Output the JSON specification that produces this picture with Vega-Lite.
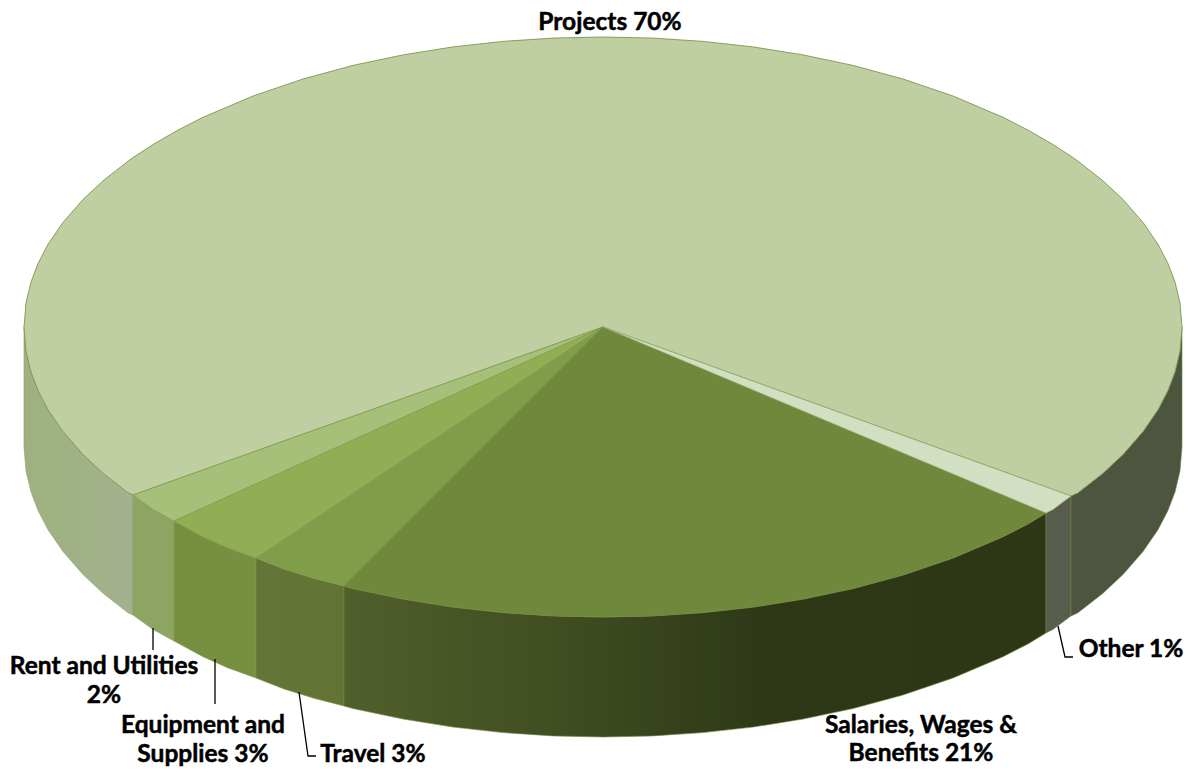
{"$schema":"https://vega.github.io/schema/vega-lite/v6.json","autosize":{"type":"fit","contains":"padding"},"width":1195,"height":772,"padding":0,"background":"white","view":{"stroke":null},
"datasets":{"shape":[
{"slice":"Projects","part":"top","x":24,"y":327,"y2":327},{"slice":"Projects","part":"top","x":26,"y":303,"y2":351},{"slice":"Projects","part":"top","x":31,"y":282,"y2":372},{"slice":"Projects","part":"top","x":38,"y":263.6,"y2":390.4},{"slice":"Projects","part":"top","x":48,"y":244.3,"y2":409.7},{"slice":"Projects","part":"top","x":63,"y":222.4,"y2":431.6},{"slice":"Projects","part":"top","x":83,"y":199.5,"y2":454.5},{"slice":"Projects","part":"top","x":103,"y":180.8,"y2":473.2},{"slice":"Projects","part":"top","x":128,"y":161.2,"y2":492.8},{"slice":"Projects","part":"top","x":133,"y":157.6,"y2":495},{"slice":"Projects","part":"top","x":153,"y":144.5,"y2":487.9},{"slice":"Projects","part":"top","x":178,"y":130.1,"y2":478.9},{"slice":"Projects","part":"top","x":203,"y":117.3,"y2":470},{"slice":"Projects","part":"top","x":253,"y":96,"y2":452.1},{"slice":"Projects","part":"top","x":303,"y":79,"y2":434.2},{"slice":"Projects","part":"top","x":353,"y":65.4,"y2":416.4},{"slice":"Projects","part":"top","x":403,"y":54.9,"y2":398.5},{"slice":"Projects","part":"top","x":453,"y":46.9,"y2":380.6},{"slice":"Projects","part":"top","x":503,"y":41.4,"y2":362.7},{"slice":"Projects","part":"top","x":553,"y":38.1,"y2":344.9},{"slice":"Projects","part":"top","x":603,"y":37,"y2":327},{"slice":"Projects","part":"top","x":653,"y":38.1,"y2":345.1},{"slice":"Projects","part":"top","x":703,"y":41.4,"y2":363.1},{"slice":"Projects","part":"top","x":753,"y":46.9,"y2":381.2},{"slice":"Projects","part":"top","x":803,"y":54.9,"y2":399.2},{"slice":"Projects","part":"top","x":853,"y":65.4,"y2":417.3},{"slice":"Projects","part":"top","x":903,"y":79,"y2":435.3},{"slice":"Projects","part":"top","x":953,"y":96,"y2":453.4},{"slice":"Projects","part":"top","x":1003,"y":117.3,"y2":471.4},{"slice":"Projects","part":"top","x":1028,"y":130.1,"y2":480.5},{"slice":"Projects","part":"top","x":1053,"y":144.5,"y2":489.5},{"slice":"Projects","part":"top","x":1071,"y":156.2,"y2":496},{"slice":"Projects","part":"top","x":1078,"y":161.2,"y2":492.8},{"slice":"Projects","part":"top","x":1103,"y":180.8,"y2":473.2},{"slice":"Projects","part":"top","x":1123,"y":199.5,"y2":454.5},{"slice":"Projects","part":"top","x":1143,"y":222.4,"y2":431.6},{"slice":"Projects","part":"top","x":1158,"y":244.3,"y2":409.7},{"slice":"Projects","part":"top","x":1168,"y":263.6,"y2":390.4},{"slice":"Projects","part":"top","x":1175,"y":282,"y2":372},{"slice":"Projects","part":"top","x":1180,"y":303,"y2":351},{"slice":"Projects","part":"top","x":1182,"y":327,"y2":327},
{"slice":"Rent","part":"top","x":133,"y":495,"y2":495},{"slice":"Rent","part":"top","x":153,"y":487.9,"y2":509.5},{"slice":"Rent","part":"top","x":174,"y":480.3,"y2":521},{"slice":"Rent","part":"top","x":603,"y":327,"y2":327},
{"slice":"Equipment","part":"top","x":174,"y":521,"y2":521},{"slice":"Equipment","part":"top","x":203,"y":507.9,"y2":536.7},{"slice":"Equipment","part":"top","x":228,"y":496.6,"y2":547.9},{"slice":"Equipment","part":"top","x":256,"y":483.9,"y2":558},{"slice":"Equipment","part":"top","x":603,"y":327,"y2":327},
{"slice":"Travel","part":"top","x":256,"y":558,"y2":558},{"slice":"Travel","part":"top","x":284,"y":539.4,"y2":569},{"slice":"Travel","part":"top","x":314,"y":519.4,"y2":578.3},{"slice":"Travel","part":"top","x":344,"y":499.4,"y2":586},{"slice":"Travel","part":"top","x":603,"y":327,"y2":327},
{"slice":"Salaries","part":"top","x":344,"y":586,"y2":586},{"slice":"Salaries","part":"top","x":353,"y":577,"y2":588.6},{"slice":"Salaries","part":"top","x":403,"y":527,"y2":599},{"slice":"Salaries","part":"top","x":453,"y":477,"y2":607.1},{"slice":"Salaries","part":"top","x":503,"y":427,"y2":612.6},{"slice":"Salaries","part":"top","x":553,"y":377,"y2":615.9},{"slice":"Salaries","part":"top","x":603,"y":327,"y2":617},{"slice":"Salaries","part":"top","x":653,"y":348,"y2":615.9},{"slice":"Salaries","part":"top","x":703,"y":369,"y2":612.6},{"slice":"Salaries","part":"top","x":753,"y":390,"y2":607.1},{"slice":"Salaries","part":"top","x":803,"y":411,"y2":599.1},{"slice":"Salaries","part":"top","x":853,"y":432,"y2":588.6},{"slice":"Salaries","part":"top","x":903,"y":453,"y2":575},{"slice":"Salaries","part":"top","x":953,"y":474,"y2":558},{"slice":"Salaries","part":"top","x":1003,"y":495,"y2":536.7},{"slice":"Salaries","part":"top","x":1028,"y":505.5,"y2":523.9},{"slice":"Salaries","part":"top","x":1046,"y":513,"y2":513},
{"slice":"Other","part":"top","x":603,"y":327,"y2":327},{"slice":"Other","part":"top","x":1046,"y":487,"y2":513},{"slice":"Other","part":"top","x":1053,"y":489.5,"y2":509.5},{"slice":"Other","part":"top","x":1071,"y":496,"y2":496},
{"slice":"Projects","part":"wallL","x":24,"y":327,"y2":447},{"slice":"Projects","part":"wallL","x":26,"y":351,"y2":471},{"slice":"Projects","part":"wallL","x":31,"y":372,"y2":492},{"slice":"Projects","part":"wallL","x":38,"y":390.4,"y2":510.4},{"slice":"Projects","part":"wallL","x":48,"y":409.7,"y2":529.7},{"slice":"Projects","part":"wallL","x":63,"y":431.6,"y2":551.6},{"slice":"Projects","part":"wallL","x":83,"y":454.5,"y2":574.5},{"slice":"Projects","part":"wallL","x":103,"y":473.2,"y2":593.2},{"slice":"Projects","part":"wallL","x":128,"y":492.8,"y2":612.8},{"slice":"Projects","part":"wallL","x":133,"y":495,"y2":615},
{"slice":"Rent","part":"wall","x":133,"y":495,"y2":615},{"slice":"Rent","part":"wall","x":153,"y":509.5,"y2":629.5},{"slice":"Rent","part":"wall","x":174,"y":521,"y2":641},
{"slice":"Equipment","part":"wall","x":174,"y":521,"y2":641},{"slice":"Equipment","part":"wall","x":203,"y":536.7,"y2":656.7},{"slice":"Equipment","part":"wall","x":228,"y":547.9,"y2":667.9},{"slice":"Equipment","part":"wall","x":256,"y":558,"y2":678},
{"slice":"Travel","part":"wall","x":256,"y":558,"y2":678},{"slice":"Travel","part":"wall","x":284,"y":569,"y2":689},{"slice":"Travel","part":"wall","x":314,"y":578.3,"y2":698.3},{"slice":"Travel","part":"wall","x":344,"y":586,"y2":706},
{"slice":"Salaries","part":"wall","x":344,"y":586,"y2":706},{"slice":"Salaries","part":"wall","x":353,"y":588.6,"y2":708.6},{"slice":"Salaries","part":"wall","x":403,"y":599,"y2":719},{"slice":"Salaries","part":"wall","x":453,"y":607.1,"y2":727.1},{"slice":"Salaries","part":"wall","x":503,"y":612.6,"y2":732.6},{"slice":"Salaries","part":"wall","x":553,"y":615.9,"y2":735.9},{"slice":"Salaries","part":"wall","x":603,"y":617,"y2":737},{"slice":"Salaries","part":"wall","x":653,"y":615.9,"y2":735.9},{"slice":"Salaries","part":"wall","x":703,"y":612.6,"y2":732.6},{"slice":"Salaries","part":"wall","x":753,"y":607.1,"y2":727.1},{"slice":"Salaries","part":"wall","x":803,"y":599.1,"y2":719.1},{"slice":"Salaries","part":"wall","x":853,"y":588.6,"y2":708.6},{"slice":"Salaries","part":"wall","x":903,"y":575,"y2":695},{"slice":"Salaries","part":"wall","x":953,"y":558,"y2":678},{"slice":"Salaries","part":"wall","x":1003,"y":536.7,"y2":656.7},{"slice":"Salaries","part":"wall","x":1028,"y":523.9,"y2":643.9},{"slice":"Salaries","part":"wall","x":1046,"y":513,"y2":633},
{"slice":"Other","part":"wall","x":1046,"y":513,"y2":633},{"slice":"Other","part":"wall","x":1053,"y":509.5,"y2":629.5},{"slice":"Other","part":"wall","x":1071,"y":496,"y2":616},
{"slice":"Projects","part":"wallR","x":1071,"y":496,"y2":616},{"slice":"Projects","part":"wallR","x":1078,"y":492.8,"y2":612.8},{"slice":"Projects","part":"wallR","x":1103,"y":473.2,"y2":593.2},{"slice":"Projects","part":"wallR","x":1123,"y":454.5,"y2":574.5},{"slice":"Projects","part":"wallR","x":1143,"y":431.6,"y2":551.6},{"slice":"Projects","part":"wallR","x":1158,"y":409.7,"y2":529.7},{"slice":"Projects","part":"wallR","x":1168,"y":390.4,"y2":510.4},{"slice":"Projects","part":"wallR","x":1175,"y":372,"y2":492},{"slice":"Projects","part":"wallR","x":1180,"y":351,"y2":471},{"slice":"Projects","part":"wallR","x":1182,"y":327,"y2":447}
],
"labels":[
{"line":"Projects 70%","x":610,"y":30},
{"line":"Rent and Utilities","x":104,"y":674},{"line":"2%","x":104,"y":703},
{"line":"Equipment and","x":203,"y":733},{"line":"Supplies 3%","x":203,"y":762},
{"line":"Travel 3%","x":373,"y":762},
{"line":"Salaries, Wages &","x":921,"y":733},{"line":"Benefits  21%","x":921,"y":761},
{"line":"Other 1%","x":1131,"y":657}
],
"leaders":[
{"slice":"Rent","i":0,"x":153,"y":628},{"slice":"Rent","i":1,"x":153,"y":650},
{"slice":"Equipment","i":0,"x":215,"y":659},{"slice":"Equipment","i":1,"x":215,"y":704},
{"slice":"Travel","i":0,"x":299,"y":692},{"slice":"Travel","i":1,"x":308,"y":756},{"slice":"Travel","i":2,"x":316,"y":756},
{"slice":"Other","i":0,"x":1058,"y":626},{"slice":"Other","i":1,"x":1065,"y":657},{"slice":"Other","i":2,"x":1073,"y":657}
]},
"encoding":{
"x":{"field":"x","type":"quantitative","scale":{"domain":[0,1195],"nice":false,"zero":false},"axis":null},
"y":{"field":"y","type":"quantitative","scale":{"domain":[772,0],"nice":false,"zero":false},"axis":null}},
"layer":[
{"data":{"name":"shape"},"encoding":{"y2":{"field":"y2"}},
"layer":[
{"transform":[{"filter":"datum.slice=='Projects'&&datum.part=='wallL'"}],"mark":{"type":"area","orient":"vertical","stroke":"#8ea36a","strokeWidth":0.6,"color":{"gradient":"linear","x1":0,"y1":0,"x2":1,"y2":0,"stops":[{"offset":0,"color":"#9fb17f"},{"offset":1,"color":"#a3b18e"}]}}},
{"transform":[{"filter":"datum.slice=='Rent'&&datum.part=='wall'"}],"mark":{"type":"area","orient":"vertical","stroke":"#8ea36a","strokeWidth":0.6,"color":"#8da463"}},
{"transform":[{"filter":"datum.slice=='Equipment'&&datum.part=='wall'"}],"mark":{"type":"area","orient":"vertical","stroke":"#86a04f","strokeWidth":0.6,"color":"#778f41"}},
{"transform":[{"filter":"datum.slice=='Travel'&&datum.part=='wall'"}],"mark":{"type":"area","orient":"vertical","stroke":"#7c9448","strokeWidth":0.6,"color":{"gradient":"linear","x1":0,"y1":0,"x2":1,"y2":0,"stops":[{"offset":0,"color":"#647637"},{"offset":1,"color":"#627334"}]}}},
{"transform":[{"filter":"datum.slice=='Salaries'&&datum.part=='wall'"}],"mark":{"type":"area","orient":"vertical","stroke":"#6f8840","strokeWidth":0.6,"color":{"gradient":"linear","x1":0,"y1":0,"x2":1,"y2":0,"stops":[{"offset":0,"color":"#505f2b"},{"offset":0.3,"color":"#414e22"},{"offset":0.6,"color":"#2e3817"},{"offset":1,"color":"#2d3716"}]}}},
{"transform":[{"filter":"datum.slice=='Other'&&datum.part=='wall'"}],"mark":{"type":"area","orient":"vertical","stroke":"#7c9448","strokeWidth":0.5,"color":"#585c4c"}},
{"transform":[{"filter":"datum.slice=='Projects'&&datum.part=='wallR'"}],"mark":{"type":"area","orient":"vertical","stroke":"#6f8548","strokeWidth":0.6,"color":"#4d553f"}},
{"transform":[{"filter":"datum.slice=='Projects'&&datum.part=='top'"}],"mark":{"type":"area","orient":"vertical","stroke":"#7d9550","strokeWidth":0.9,"color":"#bfcfa1"}},
{"transform":[{"filter":"datum.slice=='Rent'&&datum.part=='top'"}],"mark":{"type":"area","orient":"vertical","stroke":"#7f9a4a","strokeWidth":0.7,"color":"#a7c079"}},
{"transform":[{"filter":"datum.slice=='Equipment'&&datum.part=='top'"}],"mark":{"type":"area","orient":"vertical","stroke":"#7f9a4a","strokeWidth":0.7,"color":"#91ae55"}},
{"transform":[{"filter":"datum.slice=='Travel'&&datum.part=='top'"}],"mark":{"type":"area","orient":"vertical","stroke":"#7f9a4a","strokeWidth":0.7,"color":"#809e49"}},
{"transform":[{"filter":"datum.slice=='Salaries'&&datum.part=='top'"}],"mark":{"type":"area","orient":"vertical","stroke":"#71893d","strokeWidth":0.7,"color":"#70883c"}},
{"transform":[{"filter":"datum.slice=='Other'&&datum.part=='top'"}],"mark":{"type":"area","orient":"vertical","stroke":"#8fa765","strokeWidth":0.7,"color":"#d3dfc3"}}
]},
{"data":{"name":"leaders"},"mark":{"type":"line","color":"#000000","strokeWidth":1.3,"interpolate":"linear"},"encoding":{"detail":{"field":"slice"},"order":{"field":"i","type":"quantitative"}}},
{"data":{"name":"labels"},"mark":{"type":"text","font":"Lato","fontWeight":"bold","fontSize":24.5,"align":"center","baseline":"alphabetic","fill":"#000000","stroke":"#000000","strokeWidth":0.5},"encoding":{"text":{"field":"line"}}}
]}
